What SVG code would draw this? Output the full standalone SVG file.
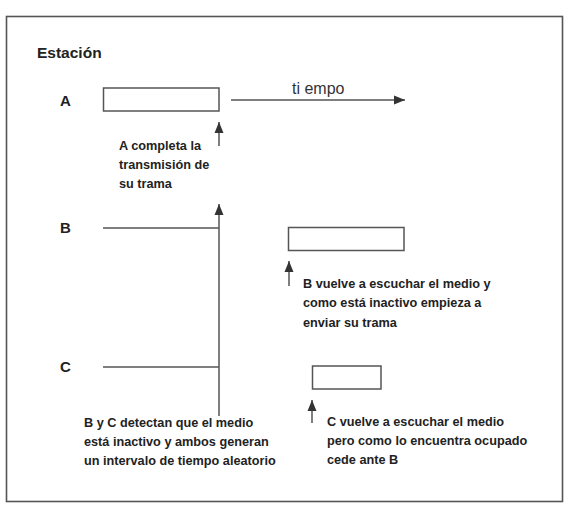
<svg xmlns="http://www.w3.org/2000/svg" width="569" height="505" viewBox="0 0 569 505">
<defs>
<style>
.frame{fill:none;stroke:#555;stroke-width:1.6}
.box{fill:#fff;stroke:#555;stroke-width:1.5}
.ln{fill:none;stroke:#555;stroke-width:1.5}
.lbl{font-family:"Liberation Sans",Arial,sans-serif;font-weight:bold;font-size:15.5px;fill:#222}
.st{font-family:"Liberation Sans",Arial,sans-serif;font-weight:bold;font-size:15px;fill:#222}
.note{font-family:"Liberation Sans",Arial,sans-serif;font-weight:bold;font-size:12.7px;fill:#222}
.time{font-family:"Liberation Sans",Arial,sans-serif;font-size:16px;fill:#333}
</style>
<marker id="ah" viewBox="0 0 11 10" refX="11" refY="5" markerWidth="11" markerHeight="10" markerUnits="userSpaceOnUse" orient="auto">
<path d="M0,0.5 L11,5 L0,9.5 Z" fill="#333"/>
</marker>
</defs>
<rect width="569" height="505" fill="#fff"/>
<rect class="frame" x="6.5" y="16.5" width="556" height="485"/>
<text class="lbl" x="37" y="58">Estación</text>
<g id="stationA">
<text class="st" x="60" y="106">A</text>
<rect class="box" x="103.5" y="88" width="115.5" height="23"/>
</g>
<g id="stationB">
<text class="st" x="60" y="233">B</text>
<rect class="box" x="288.5" y="227.5" width="115.5" height="23"/>
</g>
<g id="stationC">
<text class="st" x="60" y="372">C</text>
<rect class="box" x="312.5" y="366" width="68.5" height="23"/>
</g>
<g id="connectors">
<line class="ln" x1="231" y1="100" x2="405" y2="100" marker-end="url(#ah)"/>
<line class="ln" x1="219" y1="146" x2="219" y2="122" marker-end="url(#ah)"/>
<line class="ln" x1="219" y1="416" x2="219" y2="204" marker-end="url(#ah)"/>
<line class="ln" x1="103" y1="228" x2="219" y2="228"/>
<line class="ln" x1="103" y1="367" x2="219" y2="367"/>
<line class="ln" x1="289" y1="286" x2="289" y2="261" marker-end="url(#ah)"/>
<line class="ln" x1="312" y1="423" x2="312" y2="400" marker-end="url(#ah)"/>
</g>
<g id="labels">
<text class="time" x="292" y="94">ti empo</text>
<text class="note" x="119" y="150">A completa la</text>
<text class="note" x="119" y="169">transmisión de</text>
<text class="note" x="119" y="188">su trama</text>
<text class="note" x="303" y="288">B vuelve a escuchar el medio y</text>
<text class="note" x="303" y="307">como está inactivo empieza a</text>
<text class="note" x="303" y="327">enviar su trama</text>
<text class="note" x="84" y="427">B y C detectan que el medio</text>
<text class="note" x="84" y="446">está inactivo y ambos generan</text>
<text class="note" x="84" y="465">un intervalo de tiempo aleatorio</text>
<text class="note" x="327" y="426">C vuelve a escuchar el medio</text>
<text class="note" x="327" y="445">pero como lo encuentra ocupado</text>
<text class="note" x="327" y="464">cede ante B</text>
</g>
</svg>
